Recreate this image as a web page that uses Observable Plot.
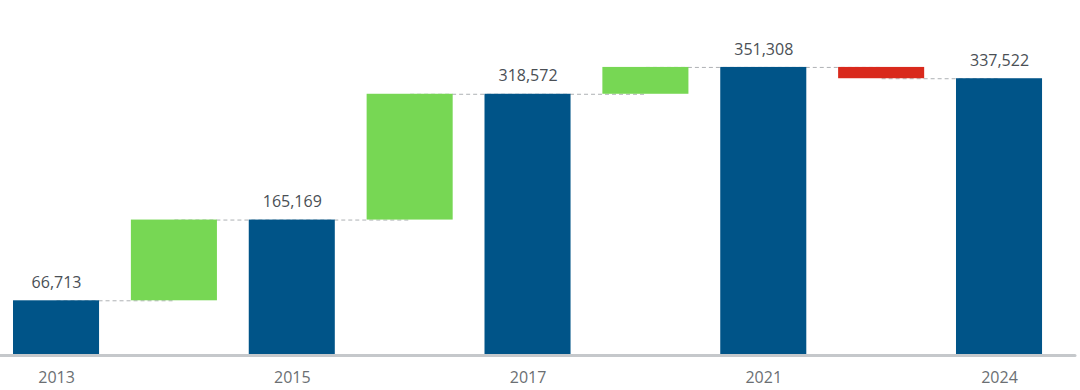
<!DOCTYPE html>
<html>
<head>
<meta charset="utf-8">
<script src="https://cdn.jsdelivr.net/npm/d3@7"></script>
<script src="https://cdn.jsdelivr.net/npm/@observablehq/plot@0.6"></script>
<style>
  html, body { margin: 0; padding: 0; background: #fff; }
  #chart { width: 1080px; height: 390px; }
</style>
</head>
<body>
<div id="chart"></div>
<script>
// Step keys, tick labels, and values
const keys = ["2013", "d1", "2015", "d2", "2017", "d3", "2021", "d4", "2024"];
const tickLabels = ["2013", "", "2015", "", "2017", "", "2021", "", "2024"];
const kinds = ["total", "delta", "total", "delta", "total", "delta", "total", "delta", "total"];
const totals = [66713, null, 165169, null, 318572, null, 351308, null, 337522];

// Build waterfall table
const rows = [];
let prev = 0;
keys.forEach((k, i) => {
  if (kinds[i] === "total") {
    rows.push({key: k, y1: 0, y2: totals[i], kind: "total", level: totals[i], label: d3.format(",")(totals[i])});
    prev = totals[i];
  } else {
    const next = totals[i + 1];
    rows.push({key: k, y1: prev, y2: next, kind: next >= prev ? "up" : "down", level: next, label: ""});
  }
});
const links = rows.slice(0, -1).map((r, i) => ({a: r.key, b: rows[i + 1].key, y: r.kind === "total" ? r.y2 : r.level}));

const colors = {total: "#005488", up: "#77d754", down: "#d9291c"};

const chart = Plot.plot({
  width: 1080,
  height: 390,
  marginTop: 27,
  marginBottom: 35,
  marginLeft: 0,
  marginRight: 5,
  style: {fontFamily: "'Open Sans', sans-serif", background: "#fff"},
  x: {type: "band", domain: keys, round: false, paddingInner: 0.27, paddingOuter: 0.195, align: 0.283, label: null},
  y: {domain: [0, 400000], axis: null},
  marks: [
    Plot.link(links, {x1: "a", x2: "b", y1: "y", y2: "y", stroke: "#aeb1b4", strokeWidth: 1, strokeDasharray: "4,3"}),
    Plot.barY(rows, {x: "key", y1: "y1", y2: "y2", fill: d => colors[d.kind], inset: 0}),
    Plot.text(rows.filter(d => d.kind === "total"), {x: "key", y: "y2", text: "label", dy: -18, fill: "#4a4f55", fontSize: 16}),
    Plot.ruleY([0], {stroke: "#c5c8cb", strokeWidth: 3, strokeLinecap: "round"}),
    Plot.axisX({tickSize: 0, tickPadding: 16, fontSize: 16, color: "#6b6f73", tickFormat: (d, i) => tickLabels[keys.indexOf(d)], label: null})
  ]
});
document.getElementById("chart").appendChild(chart);
</script>
</body>
</html>
